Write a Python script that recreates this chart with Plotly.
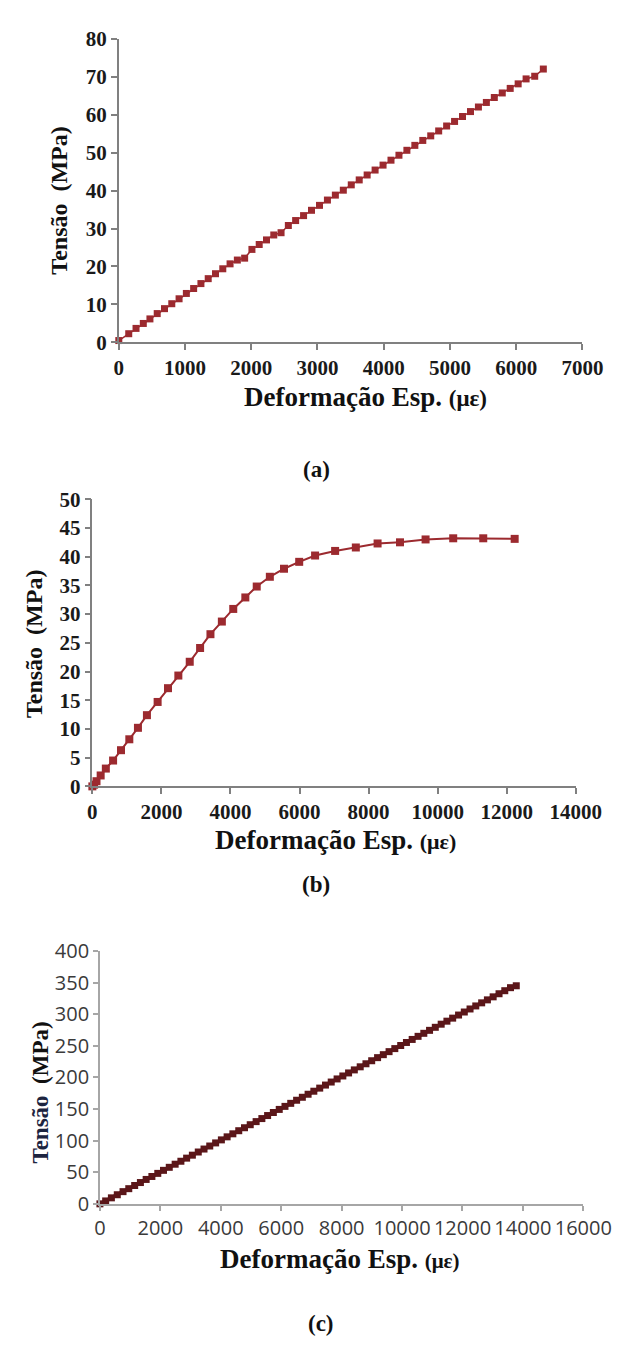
import plotly.graph_objects as go

# ---------------- data ----------------
# (a)
strain_a = [0, 150, 260, 370, 470, 580, 690, 800, 910, 1020, 1130, 1240, 1350, 1460, 1570,
            1680, 1790, 1900, 2010, 2120, 2230, 2340, 2450, 2560, 2670, 2790, 2910, 3030,
            3150, 3270, 3390, 3510, 3630, 3750, 3870, 3990, 4110, 4230, 4350, 4470, 4590,
            4710, 4830, 4950, 5070, 5190, 5310, 5430, 5550, 5670, 5790, 5910, 6030, 6150,
            6280, 6410]
stress_a = [0.5, 2.3, 3.7, 5.0, 6.2, 7.6, 8.9, 10.2, 11.5, 12.9, 14.2, 15.5, 16.8, 18.1, 19.4,
            20.7, 21.7, 22.2, 24.5, 25.8, 27.0, 28.3, 28.9, 30.8, 32.1, 33.4, 34.8, 36.1,
            37.5, 38.8, 40.1, 41.5, 42.8, 44.1, 45.4, 46.7, 48.0, 49.3, 50.6, 51.9, 53.2,
            54.4, 55.7, 57.0, 58.2, 59.5, 60.8, 62.0, 63.2, 64.5, 65.7, 66.9, 68.1, 69.4,
            70.1, 72.0]

# (b)
strain_b = [0, 50, 120, 240, 390, 600, 830, 1070, 1320, 1580, 1890, 2190, 2490, 2820, 3120,
            3420, 3750, 4080, 4430, 4760, 5140, 5550, 5990, 6450, 7030, 7630, 8260, 8910,
            9650, 10450, 11320, 12230]
stress_b = [0, 0.3, 0.9, 1.9, 3.1, 4.5, 6.3, 8.2, 10.2, 12.4, 14.7, 17.1, 19.3, 21.7, 24.1,
            26.5, 28.7, 30.9, 32.9, 34.8, 36.5, 37.9, 39.1, 40.2, 41.0, 41.6, 42.3, 42.5,
            43.0, 43.2, 43.2, 43.1]

# (c)
strain_c = [0, 190, 380, 575, 765, 955, 1150, 1340, 1530, 1720, 1915, 2105, 2295, 2490, 2680,
            2870, 3060, 3255, 3445, 3635, 3830, 4020, 4210, 4400, 4595, 4785, 4975, 5170,
            5360, 5550, 5740, 5935, 6125, 6315, 6510, 6700, 6890, 7080, 7275, 7465, 7655,
            7850, 8040, 8230, 8420, 8615, 8805, 8995, 9190, 9380, 9570, 9760, 9955, 10145,
            10335, 10530, 10720, 10910, 11100, 11295, 11485, 11675, 11870, 12060, 12250,
            12440, 12635, 12825, 13015, 13210, 13400, 13590, 13780]
stress_c = [0, 4.6, 9.5, 14.4, 19.3, 24.0, 29.0, 33.7, 38.6, 43.3, 48.2, 53.0, 57.8, 62.7, 67.4,
            72.3, 77.0, 82.0, 86.7, 91.5, 96.4, 101.2, 106.0, 110.8, 115.7, 120.4, 125.2, 130.1,
            134.9, 139.7, 144.5, 149.4, 154.2, 159.0, 163.9, 168.6, 173.4, 178.2, 183.1, 187.9,
            192.7, 197.6, 202.3, 207.1, 211.9, 216.8, 221.6, 226.4, 231.3, 236.0, 240.8, 245.6,
            250.5, 255.3, 260.1, 265.0, 269.8, 274.5, 279.3, 284.2, 289.0, 293.8, 298.7, 303.5,
            308.3, 313.1, 318.0, 322.7, 327.5, 332.4, 337.2, 342.0, 345.0]

x_title = "Deformação Esp."
y_title = "Tensão  (MPa)"
panel_labels = ["(a)", "(b)", "(c)"]

# ---------------- figure ----------------
W, H = 627, 1348
def px(x):
    return x / W
def py(y):
    return 1 - y / H

RED = "#9c2a2f"
DARK = "#5b1619"
SERIF = "Liberation Serif"
SANS = "Open Sans"

fig = go.Figure()
fig.add_trace(go.Scatter(x=strain_a, y=stress_a, mode="lines+markers", xaxis="x", yaxis="y",
                         line=dict(color=RED, width=1.5),
                         marker=dict(symbol="square", size=7, color=RED),
                         cliponaxis=False, showlegend=False))
fig.add_trace(go.Scatter(x=strain_b, y=stress_b, mode="lines+markers", xaxis="x2", yaxis="y2",
                         line=dict(color=RED, width=2),
                         marker=dict(symbol="square", size=8, color=RED),
                         cliponaxis=False, showlegend=False))
fig.add_trace(go.Scatter(x=strain_c, y=stress_c, mode="lines+markers", xaxis="x3", yaxis="y3",
                         line=dict(color=DARK, width=3.5),
                         marker=dict(symbol="square", size=7, color=DARK),
                         cliponaxis=False, showlegend=False))

serif_tick = dict(family=SERIF, size=21, color="#1a1a1a", weight="bold")
sans_tick = dict(family=SANS, size=20, color="#3a3a3a")

def ax(domain, rng, dtick, font, color, anchor, ticklen=6):
    return dict(domain=domain, range=rng, dtick=dtick, tick0=0, tickformat="d",
                showgrid=False, zeroline=False,
                showline=True, linecolor=color, linewidth=1.5, ticks="outside",
                ticklen=ticklen, tickwidth=1.5, tickcolor=color, tickfont=font,
                anchor=anchor, fixedrange=True)

fig.update_layout(
    width=W, height=H, margin=dict(l=0, r=0, t=0, b=0),
    paper_bgcolor="white", plot_bgcolor="white",
    xaxis=ax([px(111), px(602)], [0, 7000], 1000, serif_tick, "#808080", "y"),
    yaxis=ax([py(327), py(17)], [0, 80], 10, serif_tick, "#808080", "x"),
    xaxis2=ax([px(83), px(595)], [0, 14000], 2000, serif_tick, "#808080", "y2"),
    yaxis2=ax([py(780), py(487)], [0, 50], 5, serif_tick, "#808080", "x2"),
    xaxis3=ax([px(91), px(603)], [0, 16000], 2000, sans_tick, "#a6a6a6", "y3", 5),
    yaxis3=ax([py(1206), py(948)], [0, 400], 50, sans_tick, "#a6a6a6", "x3", 5),
)

def xt(cx, cy, small):
    fig.add_annotation(x=px(cx), y=py(cy), xref="paper", yref="paper", showarrow=False,
                       xanchor="center", yanchor="middle",
                       text=x_title + " <span style='font-size:%dpx'>(με)</span>" % small,
                       font=dict(family=SERIF, size=27, color="#111111", weight="bold"))

def yt(cx, cy, text, size=24):
    fig.add_annotation(x=px(cx), y=py(cy), xref="paper", yref="paper", showarrow=False,
                       xanchor="center", yanchor="middle", textangle=-90, text=text,
                       font=dict(family=SERIF, size=size, color="#111111", weight="bold"))

def lab(cx, cy, text):
    fig.add_annotation(x=px(cx), y=py(cy), xref="paper", yref="paper", showarrow=False,
                       xanchor="center", yanchor="middle", text=text,
                       font=dict(family=SERIF, size=23, color="#111111", weight="bold"))

xt(372, 383, 23)
yt(48, 182, y_title)
lab(320, 457, panel_labels[0])

xt(340, 835, 22)
yt(22, 635, y_title)
lab(320, 880, panel_labels[1])

xt(345, 1262, 21)
yt(28, 1092, "<span style='color:#1c2440'>Tensão</span>  (MPa)", 23)
lab(325, 1328, panel_labels[2])

fig.write_html("out.html")
